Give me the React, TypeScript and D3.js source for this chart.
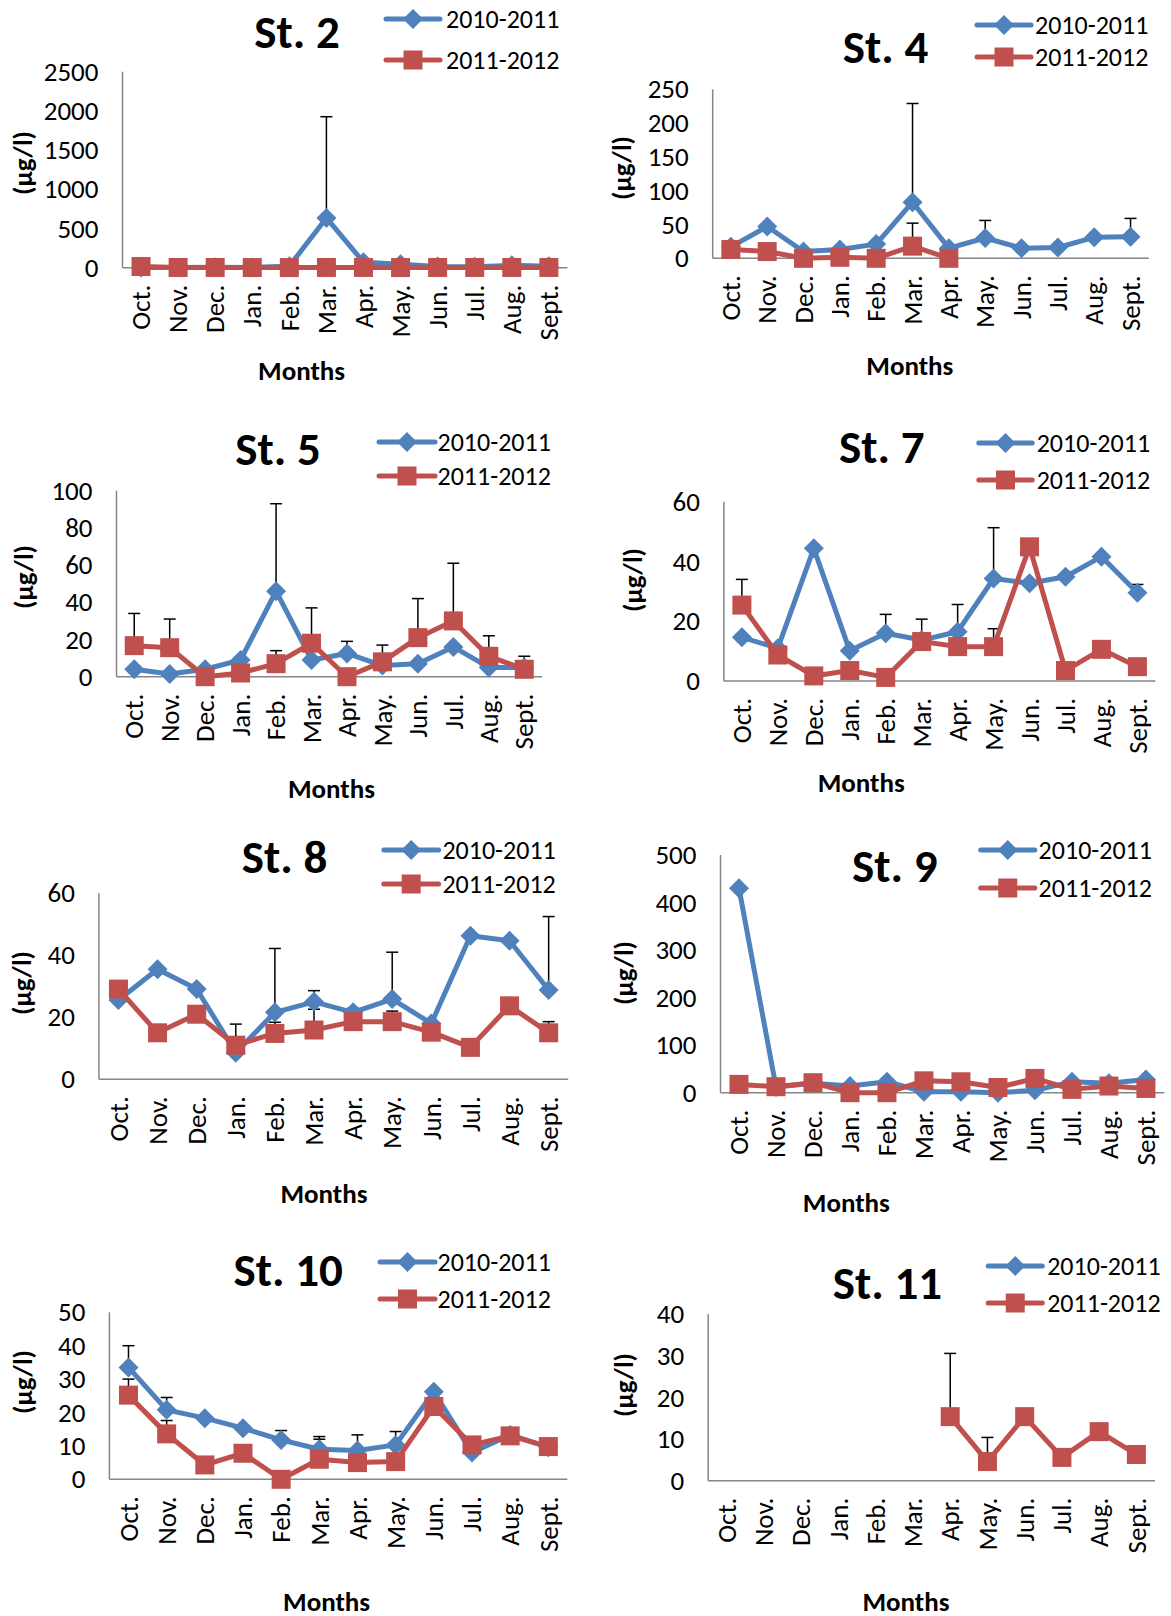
import React from 'react';
import * as d3 from 'd3';

type V = number | null;

// Shared categories and series names
const MONTHS = ['Oct.', 'Nov.', 'Dec.', 'Jan.', 'Feb.', 'Mar.', 'Apr.', 'May.', 'Jun.', 'Jul.', 'Aug.', 'Sept.'];
const SEASONS = ['2010-2011', '2011-2012'];
const N = null;

// St. 2
const st2A: V[] = [3, 3, 5, 4, 20, 635, 70, 45, 15, 12, 30, 20];
const st2AErr: V[] = [N, N, N, N, N, 1291, N, N, N, N, N, N];
const st2B: V[] = [15, 3, 3, 2, 2, 3, 3, 2, 3, 3, 3, 3];
const st2BErr: V[] = [N, N, N, N, N, N, N, N, N, N, N, N];

// St. 4
const st4A: V[] = [17, 47, 10, 13, 21, 83, 15, 30, 15, 16, 31, 32];
const st4AErr: V[] = [N, N, N, N, N, 146, N, 26, N, N, N, 27];
const st4B: V[] = [13, 10, 0, 1.5, 0, 18, 0, N, N, N, N, N];
const st4BErr: V[] = [N, N, N, N, N, 34, N, N, N, N, N, N];

// St. 5
const st5A: V[] = [4, 1.5, 4, 9, 46, 9, 12.5, 6, 7, 16, 5, 5];
const st5AErr: V[] = [N, N, N, N, 47, N, 6.5, N, N, N, N, N];
const st5B: V[] = [16.7, 15.6, 0, 2, 7, 18, 0, 8, 21, 30, 11, 4];
const st5BErr: V[] = [17.3, 15.4, N, N, 7, 19, N, 9, 21, 31, 11, 7];

// St. 7
const st7A: V[] = [14.6, 11, 44.4, 10.1, 16, 13.7, 16.5, 34.3, 32.7, 34.9, 41.6, 29.5];
const st7AErr: V[] = [N, N, N, N, 6.3, 7, 9.1, 17, N, N, N, 2.8];
const st7B: V[] = [25.4, 8.7, 1.7, 3.5, 1.2, 13.2, 11.5, 11.5, 44.9, 3.5, 10.6, 4.8];
const st7BErr: V[] = [8.6, N, N, N, N, N, N, 6, N, N, N, N];

// St. 8
const st8A: V[] = [25.6, 35.5, 29.1, 8.6, 21.6, 25, 21.6, 25.9, 18, 46.3, 44.7, 28.8];
const st8AErr: V[] = [N, N, N, N, 20.6, 3.6, 1.3, 15.1, N, N, N, 23.7];
const st8B: V[] = [29.1, 15, 21, 11, 14.8, 15.9, 18.6, 18.6, 15.2, 10.3, 23.7, 15];
const st8BErr: V[] = [N, N, N, 6.8, 3.6, 6.7, N, 3.4, N, N, N, 3.6];

// St. 9
const st9A: V[] = [430, 12, 20, 14, 23, 2, 2, 0, 5, 23, 20, 28];
const st9AErr: V[] = [N, N, N, N, N, N, N, N, N, N, N, N];
const st9B: V[] = [17.5, 12.6, 21, 0, 0, 25, 23, 11, 30, 7, 14, 9];
const st9BErr: V[] = [N, N, N, N, N, N, N, N, N, N, N, N];

// St. 10
const st10A: V[] = [33.5, 20.8, 18.3, 15.3, 11.8, 9, 8.6, 10.3, 26.2, 8, 13.3, 9.6];
const st10AErr: V[] = [6.5, 3.7, N, N, 2.8, 3.8, 4.7, 4, N, N, N, N];
const st10B: V[] = [25.2, 13.6, 4.3, 7.8, 0, 6, 5, 5.3, 21.8, 10.3, 13, 9.8];
const st10BErr: V[] = [4.8, 4, N, N, N, 6, N, N, N, N, N, N];

// St. 11
const st11A: V[] = [N, N, N, N, N, N, N, N, N, N, N, N];
const st11AErr: V[] = [N, N, N, N, N, N, N, N, N, N, N, N];
const st11B: V[] = [N, N, N, N, N, N, 15.4, 4.6, 15.4, 5.6, 11.8, 6.3];
const st11BErr: V[] = [N, N, N, N, N, N, 15.2, 5.8, N, N, N, N];

const BLUE = '#4F81BD';
const RED = '#C0504D';
const AXIS = '#868686';
const FONT = "Carlito, Calibri, Lato, 'Open Sans', sans-serif";

// Panel geometry (plot box, title, legend and axis-title positions)
const PANELS = [
  { title: 'St. 2', a: st2A, aErr: st2AErr, b: st2B, bErr: st2BErr, max: 2500, step: 500,
    left: 122.5, right: 567.4, top: 71.7, bottom: 267.7,
    titleX: 297, titleY: 48, legX1: 386, legX2: 440, legY1: 19, legY2: 60, legTX: 446,
    monthsX: 301.6, monthsY: 380, yLabX: 23, yLabY: 163 },
  { title: 'St. 4', a: st4A, aErr: st4AErr, b: st4B, bErr: st4BErr, max: 250, step: 50,
    left: 712.7, right: 1148.7, top: 89.3, bottom: 258.3,
    titleX: 885.5, titleY: 63, legX1: 977, legX2: 1031, legY1: 25, legY2: 57, legTX: 1035,
    monthsX: 909.8, monthsY: 375, yLabX: 622.3, yLabY: 168 },
  { title: 'St. 5', a: st5A, aErr: st5AErr, b: st5B, bErr: st5BErr, max: 100, step: 20,
    left: 116.5, right: 542, top: 490.7, bottom: 676.7,
    titleX: 278, titleY: 465, legX1: 379, legX2: 435, legY1: 442, legY2: 476, legTX: 437.5,
    monthsX: 331.5, monthsY: 798, yLabX: 24.3, yLabY: 577 },
  { title: 'St. 7', a: st7A, aErr: st7AErr, b: st7B, bErr: st7BErr, max: 60, step: 20,
    left: 723.9, right: 1155.4, top: 501.7, bottom: 681,
    titleX: 881.8, titleY: 463, legX1: 978.8, legX2: 1032.2, legY1: 443, legY2: 480, legTX: 1036.7,
    monthsX: 861.2, monthsY: 792, yLabX: 633.5, yLabY: 580 },
  { title: 'St. 8', a: st8A, aErr: st8AErr, b: st8B, bErr: st8BErr, max: 60, step: 20,
    left: 98.9, right: 568.2, top: 893.3, bottom: 1079.3,
    titleX: 284.5, titleY: 873, legX1: 383.8, legX2: 438.6, legY1: 850, legY2: 884, legTX: 442.4,
    monthsX: 324, monthsY: 1203, yLabX: 22.4, yLabY: 983 },
  { title: 'St. 9', a: st9A, aErr: st9AErr, b: st9B, bErr: st9BErr, max: 500, step: 100,
    left: 720.5, right: 1164.4, top: 855, bottom: 1092.7,
    titleX: 894.8, titleY: 882, legX1: 980.7, legX2: 1034.8, legY1: 850, legY2: 888, legTX: 1038.6,
    monthsX: 846.3, monthsY: 1212, yLabX: 624.2, yLabY: 973 },
  { title: 'St. 10', a: st10A, aErr: st10AErr, b: st10B, bErr: st10BErr, max: 50, step: 10,
    left: 109.4, right: 567.4, top: 1312.3, bottom: 1479.3,
    titleX: 288.2, titleY: 1286, legX1: 380, legX2: 435, legY1: 1262, legY2: 1299, legTX: 437.5,
    monthsX: 326.6, monthsY: 1611, yLabX: 23.1, yLabY: 1382 },
  { title: 'St. 11', a: st11A, aErr: st11AErr, b: st11B, bErr: st11BErr, max: 40, step: 10,
    left: 708.2, right: 1155, top: 1314.3, bottom: 1480.7,
    titleX: 887.4, titleY: 1299, legX1: 988.2, legX2: 1042.3, legY1: 1266, legY2: 1303, legTX: 1047.2,
    monthsX: 906, monthsY: 1611, yLabX: 624.2, yLabY: 1385 },
];

const TICK_SIZE = 27;
const LEGEND_SIZE = 26;
const AXIS_TITLE_SIZE = 27;
const TITLE_SIZE = 47;

const diamondPath = (r: number) => `M0,${-r}L${r},0L0,${r}L${-r},0Z`;

function Marker({ kind, x, y, color }: { kind: string; x: number; y: number; color: string }) {
  if (kind === 'diamond') {
    return <path d={diamondPath(10)} transform={`translate(${x},${y})`} fill={color} />;
  }
  const s = 19;
  return <rect x={x - s / 2} y={y - s / 2} width={s} height={s} fill={color} />;
}

function Panel({ p }: { p: (typeof PANELS)[number] }) {
  const x = d3.scaleBand<string>().domain(MONTHS).range([p.left, p.right]).padding(0);
  const y = d3.scaleLinear().domain([0, p.max]).range([p.bottom, p.top]);
  const cx = (m: string) => (x(m) as number) + x.bandwidth() / 2;
  const ticks = d3.range(0, p.max + p.step / 2, p.step);

  const line = d3
    .line<[string, V]>()
    .defined((d) => d[1] != null)
    .x((d) => cx(d[0]))
    .y((d) => y(d[1] as number));

  const series = [
    { name: SEASONS[0], vals: p.a, errs: p.aErr, color: BLUE, kind: 'diamond' },
    { name: SEASONS[1], vals: p.b, errs: p.bErr, color: RED, kind: 'square' },
  ];

  return (
    <g>
      {/* axes */}
      <line x1={p.left} x2={p.left} y1={p.top} y2={p.bottom} stroke={AXIS} strokeWidth={1.5} />
      <line x1={p.left} x2={p.right} y1={p.bottom} y2={p.bottom} stroke={AXIS} strokeWidth={1.5} />
      {ticks.map((t) => (
        <text key={t} x={p.left - 24} y={y(t)} dy="0.34em" textAnchor="end" fontSize={TICK_SIZE} fontFamily={FONT} fill="#000">
          {t}
        </text>
      ))}
      {MONTHS.map((m) => (
        <text
          key={m}
          transform={`translate(${cx(m)},${p.bottom + 17}) rotate(-90)`}
          dy="0.34em"
          textAnchor="end"
          fontSize={TICK_SIZE}
          fontFamily={FONT}
          fill="#000"
        >
          {m}
        </text>
      ))}
      <text x={p.monthsX} y={p.monthsY} textAnchor="middle" fontSize={AXIS_TITLE_SIZE} fontWeight="bold" fontFamily={FONT}>
        Months
      </text>
      <text
        transform={`translate(${p.yLabX},${p.yLabY}) rotate(-90)`}
        dy="0.33em"
        textAnchor="middle"
        fontSize={AXIS_TITLE_SIZE}
        fontWeight="bold"
        fontFamily={FONT}
      >
        (µg/l)
      </text>
      <text x={p.titleX} y={p.titleY} textAnchor="middle" fontSize={TITLE_SIZE} fontWeight="bold" fontFamily={FONT}>
        {p.title}
      </text>

      {/* error bars (upper only) */}
      {series.map((s) =>
        MONTHS.map((m, i) => {
          const v = s.vals[i];
          const e = s.errs[i];
          if (v == null || e == null) return null;
          const x0 = cx(m);
          const yTop = y(v + e);
          return (
            <g key={`${s.name}-${m}-err`} stroke="#000" strokeWidth={1.5}>
              <line x1={x0} x2={x0} y1={y(v)} y2={yTop} />
              <line x1={x0 - 6} x2={x0 + 6} y1={yTop} y2={yTop} />
            </g>
          );
        })
      )}

      {/* series lines and markers */}
      {series.map((s) => {
        const pts = MONTHS.map((m, i) => [m, s.vals[i]] as [string, V]);
        return (
          <g key={s.name}>
            <path d={line(pts) || ''} fill="none" stroke={s.color} strokeWidth={5} strokeLinejoin="round" strokeLinecap="round" />
            {pts.map(([m, v]) =>
              v == null ? null : <Marker key={m} kind={s.kind} x={cx(m)} y={y(v)} color={s.color} />
            )}
          </g>
        );
      })}

      {/* legend */}
      {series.map((s, i) => {
        const ly = i === 0 ? p.legY1 : p.legY2;
        return (
          <g key={`leg-${s.name}`}>
            <line x1={p.legX1} x2={p.legX2} y1={ly} y2={ly} stroke={s.color} strokeWidth={5} strokeLinecap="round" />
            <Marker kind={s.kind} x={(p.legX1 + p.legX2) / 2} y={ly} color={s.color} />
            <text x={p.legTX} y={ly} dy="0.34em" fontSize={LEGEND_SIZE} fontFamily={FONT} fill="#000">
              {s.name}
            </text>
          </g>
        );
      })}
    </g>
  );
}

export default function App() {
  return (
    <svg
      width={1171}
      height={1616}
      viewBox="0 0 1171 1616"
      style={{ position: 'absolute', left: 0, top: 0, background: '#fff' }}
    >
      <rect width={1171} height={1616} fill="#fff" />
      {PANELS.map((p) => (
        <Panel key={p.title} p={p} />
      ))}
    </svg>
  );
}
